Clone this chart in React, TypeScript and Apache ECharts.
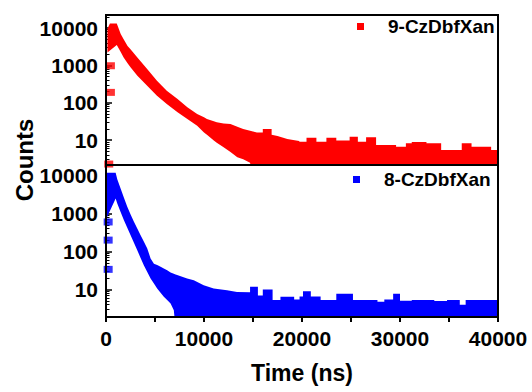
import React, { useEffect, useRef } from 'react';
import * as echarts from 'echarts';

const FONT = 'Arial, "Liberation Sans", Helvetica, sans-serif';

const RED = '#ff0000';
const BLUE = '#0000ff';
const redName = '9-CzDbfXan';
const blueName = '8-CzDbfXan';

// axis ranges / ticks
const xMin = 0;
const xMax = 40000;
const xTickStep = 5000;
const xLabelStep = 10000;
const topYMin = 2.17;
const topYMax = 22300;
const botYMin = 1.9;
const botYMax = 18900;
const yMajorLabels = [10, 100, 1000, 10000];
const yMinorTicks = [
  2, 3, 4, 5, 6, 7, 8, 9,
  20, 30, 40, 50, 60, 70, 80, 90,
  200, 300, 400, 500, 600, 700, 800, 900,
  2000, 3000, 4000, 5000, 6000, 7000, 8000, 9000,
  20000,
];

// 9-CzDbfXan: rising points and decay band (lower / upper envelope of the markers)
const redRiseTime = [280, 450, 450];
const redRiseCounts = [2.3, 190, 980];
const redTime = [
  150, 400, 1100, 1500, 1800, 2200, 2500, 3200, 4200, 5200, 6200, 7300, 8300, 9300,
  10000, 10300, 11000, 11300, 12000, 12700, 13400, 14000, 14700, 15000, 15400,
  16000, 16000, 16900, 16900, 17500, 18500, 19700, 19750, 20460, 20460, 21470,
  21470, 22490, 22490, 23500, 23500, 24860, 24860, 25700, 25700, 26540, 26540,
  27560, 27560, 29600, 29600, 30600, 30600, 31200, 31200, 32700, 32700, 34200,
  34200, 36300, 36300, 37300, 37300, 39300, 39300, 40000,
];
const redHigh = [
  9500, 13300, 13300, 6900, 5000, 3300, 2700, 1640, 800, 390, 210, 126, 76, 50,
  41, 37, 32, 30, 28, 27, 23, 20, 18, 17, 16,
  16, 20, 20, 14, 13, 10.7, 9.5, 9.1, 9.1, 11.7, 11.7,
  9.1, 9.1, 11.7, 11.7, 9.8, 9.8, 12.4, 12.4, 9.1, 9.1, 12,
  12, 7.4, 7.4, 6.7, 6.7, 8.3, 8.3, 9, 9, 8.3, 8.3,
  5.5, 5.5, 8.3, 8.3, 6.7, 6.7, 5.5, 5.5,
];
const redLow = [
  2200, 2500, 3500, 2300, 1640, 1150, 890, 530, 286, 155, 93, 56, 37, 24.5,
  16, 14, 9.8, 8.6, 6.5, 4.8, 3.5, 3.1, 2.5, 1, 1,
  1, 1, 1, 1, 1, 1, 1, 1, 1, 1, 1,
  1, 1, 1, 1, 1, 1, 1, 1, 1, 1, 1,
  1, 1, 1, 1, 1, 1, 1, 1, 1, 1, 1,
  1, 1, 1, 1, 1, 1, 1, 1,
];

// 8-CzDbfXan
const blueRiseTime = [220, 220, 220];
const blueRiseCounts = [34, 200, 600];
const blueTime = [
  100, 985, 1150, 1490, 1830, 2170, 2510, 2850, 3190, 3530, 3870, 4210, 4550, 4890,
  5220, 5570, 5900, 6240, 6590, 6920, 7100, 7260, 8280, 8960, 9970, 10990, 12350,
  13370, 14700, 14700, 15500, 15500, 16000, 16000, 17000, 17000, 17800, 17800,
  19200, 19200, 19750, 19750, 20100, 20100, 20900, 20900, 21900, 21900, 23500,
  23500, 25200, 25200, 27700, 27700, 28400, 28400, 29300, 29300, 30000, 30000,
  31200, 31200, 33500, 33500, 34800, 34800, 36100, 36100, 36700, 36700, 40000,
];
const blueHigh = [
  11800, 11800, 8000, 4550, 2600, 1500, 950, 610, 405, 270, 180, 120, 66, 48,
  44, 40, 36, 32, 28, 26, 25, 24, 19.6, 17.6, 13, 10.6, 9.6,
  8.7, 8.5, 11.8, 11.8, 7, 7, 10, 10, 5.3, 5.3, 6.5,
  6.5, 5.5, 5.5, 6.6, 6.6, 9, 9, 6.6, 6.6, 5.3, 5.3,
  7.8, 7.8, 5.3, 5.3, 4.8, 4.8, 5.5, 5.5, 7.8, 7.8, 5.1,
  5.1, 5.3, 5.3, 5, 5, 5.3, 5.3, 4, 4, 5.3, 5.3,
];
const blueLow = [
  800, 2500, 1830, 1100, 665, 420, 270, 170, 108, 68, 43, 29, 19.6, 14.5,
  10.6, 8.3, 6.5, 5.3, 4.3, 2.85, 1, 1, 1, 1, 1, 1, 1,
  1, 1, 1, 1, 1, 1, 1, 1, 1, 1, 1,
  1, 1, 1, 1, 1, 1, 1, 1, 1, 1, 1,
  1, 1, 1, 1, 1, 1, 1, 1, 1, 1, 1,
  1, 1, 1, 1, 1, 1, 1, 1, 1, 1, 1,
];

// panel layout (pixels)
const PLOT_LEFT = 106;
const PLOT_WIDTH = 392;
const TOP_Y = 15;
const TOP_H = 150;
const BOT_Y = 165;
const BOT_H = 152;
const LW = 2;

function bandSeries(name: string, color: string, t: number[], lo: number[], hi: number[], idx: number) {
  return {
    type: 'custom',
    name,
    xAxisIndex: idx,
    yAxisIndex: idx * 2,
    clip: true,
    z: 1,
    itemStyle: { color },
    data: t.map((v, i) => [v, lo[i], hi[i]]),
    encode: { x: 0, y: [1, 2] },
    renderItem: (params: any, api: any) => {
      if (params.dataIndex !== 0) return { type: 'group', children: [] };
      const upper = t.map((v, i) => api.coord([v, hi[i]]));
      const lower = t.map((v, i) => api.coord([v, lo[i]])).reverse();
      return {
        type: 'polygon',
        shape: { points: upper.concat(lower) },
        style: { fill: color },
      };
    },
  };
}

function riseSeries(name: string, color: string, t: number[], c: number[], idx: number) {
  return {
    type: 'scatter',
    name,
    xAxisIndex: idx,
    yAxisIndex: idx * 2,
    symbol: 'rect',
    symbolSize: [9, 7],
    itemStyle: { color },
    z: 1,
    data: t.map((v, i) => [v, c[i]]),
  };
}

const isMajor = (v: number) => yMajorLabels.some((m) => Math.abs(v - m) < 1e-6 * m);
const makeLine = () => ({ show: true, onZero: false, lineStyle: { color: '#000', width: 2 } });

function logAxis(gridIndex: number, min: number, max: number) {
  return {
    type: 'log',
    gridIndex,
    position: 'left',
    min,
    max,
    logBase: 10,
    axisLine: makeLine(),
    axisTick: { show: true, inside: true, length: 6, lineStyle: { color: '#000', width: 1.5 } },
    splitLine: { show: false },
    axisLabel: {
      margin: 8,
      color: '#000',
      fontFamily: FONT,
      fontWeight: 'bold',
      fontSize: 21,
      formatter: (v: number) => (isMajor(v) ? String(Math.round(v)) : ''),
    },
  };
}

function minorAxis(gridIndex: number, min: number, max: number) {
  return {
    type: 'value',
    gridIndex,
    position: 'left',
    min: Math.log10(min),
    max: Math.log10(max),
    axisLine: { show: false, onZero: false },
    axisLabel: { show: false },
    splitLine: { show: false },
    axisTick: {
      show: true,
      inside: true,
      length: 3.5,
      customValues: yMinorTicks.filter((v) => v >= min && v <= max).map((v) => Math.log10(v)),
      lineStyle: { color: '#000', width: 1 },
    },
  };
}

// filled bars used as the plot frame
function frameBars(y: number, h: number) {
  const bar = (x: number, yy: number, w: number, hh: number) => ({
    type: 'rect',
    z: 50,
    silent: true,
    shape: { x, y: yy, width: w, height: hh },
    style: { fill: '#000' },
  });
  return [
    bar(PLOT_LEFT - LW / 2, y - LW / 2, PLOT_WIDTH + LW, LW),
    bar(PLOT_LEFT - LW / 2, y + h - LW / 2, PLOT_WIDTH + LW, LW),
    bar(PLOT_LEFT - LW / 2, y - LW / 2, LW, h + LW),
    bar(PLOT_LEFT + PLOT_WIDTH - LW / 2, y - LW / 2, LW, h + LW),
  ];
}

export default function App() {
  const ref = useRef<HTMLDivElement>(null);
  useEffect(() => {
    if (!ref.current) return;
    const chart = echarts.init(ref.current, undefined, { renderer: 'svg' });
    const legendBase = {
      orient: 'horizontal',
      padding: 0,
      icon: 'rect',
      itemWidth: 7,
      itemHeight: 7,
      selectedMode: false,
      textStyle: {
        color: '#000',
        fontFamily: FONT,
        fontWeight: 'bold',
        fontSize: 19,
        padding: [0, 0, 0, 19],
      },
    };
    chart.setOption({
      animation: false,
      backgroundColor: '#fff',
      grid: [
        { left: PLOT_LEFT, top: TOP_Y, width: PLOT_WIDTH, height: TOP_H },
        { left: PLOT_LEFT, top: BOT_Y, width: PLOT_WIDTH, height: BOT_H },
      ],
      xAxis: [
        {
          type: 'value', gridIndex: 0, position: 'bottom', min: xMin, max: xMax, interval: xTickStep,
          axisLine: makeLine(), axisTick: { show: false }, axisLabel: { show: false }, splitLine: { show: false },
        },
        {
          type: 'value', gridIndex: 1, position: 'bottom', min: xMin, max: xMax, interval: xTickStep,
          axisLine: makeLine(),
          axisTick: { show: true, inside: false, length: 5, lineStyle: { color: '#000', width: 2 } },
          splitLine: { show: false },
          axisLabel: {
            margin: 11,
            color: '#000',
            fontFamily: FONT,
            fontWeight: 'bold',
            fontSize: 21,
            formatter: (v: number) => (v % xLabelStep === 0 ? String(v) : ''),
          },
          name: 'Time (ns)',
          nameLocation: 'middle',
          nameGap: 44,
          nameTextStyle: { color: '#000', fontFamily: FONT, fontWeight: 'bold', fontSize: 23 },
        },
      ],
      yAxis: [
        logAxis(0, topYMin, topYMax),
        minorAxis(0, topYMin, topYMax),
        logAxis(1, botYMin, botYMax),
        minorAxis(1, botYMin, botYMax),
      ],
      legend: [
        { ...legendBase, data: [redName], left: 357, top: 17 },
        { ...legendBase, data: [blueName], left: 353, top: 170 },
      ],
      graphic: [
        ...frameBars(TOP_Y, TOP_H),
        ...frameBars(BOT_Y, BOT_H),
        {
          type: 'text',
          x: 24,
          y: 160,
          rotation: Math.PI / 2,
          style: {
            text: 'Counts',
            fill: '#000',
            fontFamily: FONT,
            fontWeight: 'bold',
            fontSize: 24,
            align: 'center',
            verticalAlign: 'middle',
          },
        },
      ],
      series: [
        bandSeries(redName, RED, redTime, redLow, redHigh, 0),
        riseSeries(redName, RED, redRiseTime, redRiseCounts, 0),
        bandSeries(blueName, BLUE, blueTime, blueLow, blueHigh, 1),
        riseSeries(blueName, BLUE, blueRiseTime, blueRiseCounts, 1),
      ],
    });
    return () => chart.dispose();
  }, []);
  return (
    <div
      ref={ref}
      style={{ position: 'fixed', left: 0, top: 0, width: 532, height: 392, background: '#fff' }}
    />
  );
}
